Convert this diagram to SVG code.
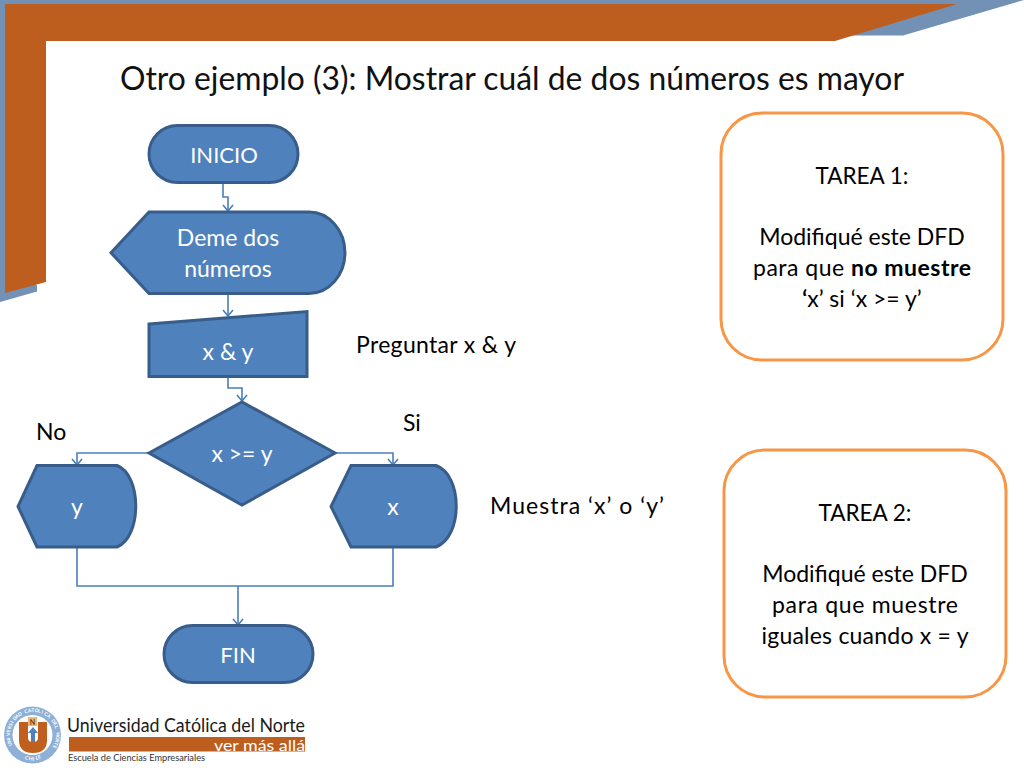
<svg xmlns="http://www.w3.org/2000/svg" width="1024" height="768" viewBox="0 0 1024 768">
<style>
text{font-family:Lato,"Open Sans","Liberation Sans",sans-serif}
.n{fill:#4f81bd;stroke:#385d8a;stroke-width:3}
.nt{fill:#fff;font-size:23px;text-anchor:middle}
.t{fill:#000;font-size:23px}
.tc{fill:#000;font-size:23px;text-anchor:middle}
.task{fill:#fff;stroke:#f79646;stroke-width:3}
.c{fill:none;stroke:#4a7ebb;stroke-width:1.6}
.ring{font-size:4.800px;fill:#fff;font-weight:700}
</style>
<defs><marker id="a" markerUnits="userSpaceOnUse" markerWidth="12" markerHeight="10" refX="6" refY="9" orient="0" overflow="visible"><path d="M1 3 L6 9 L11 3" fill="none" stroke="#4a7ebb" stroke-width="1.6"/></marker></defs>
<g id="frame">
<path d="M0 0H1024L903 35.500H700V20H20V280L37 285V291.500L0 302Z" fill="#7291b5"/>
<path d="M5 4H957L835 41H46V282L5 293Z" fill="#bd5e1f"/>
</g>
<text id="title" x="120" y="90" font-size="32" textLength="784" lengthAdjust="spacingAndGlyphs" fill="#111">Otro ejemplo (3): Mostrar cuál de dos números es mayor</text>
<g id="connectors">
<path class="c" d="M223 183V197H228V211" marker-end="url(#a)"/>
<path class="c" d="M228 294V316" marker-end="url(#a)"/>
<path class="c" d="M228 377V388H242V401" marker-end="url(#a)"/>
<path class="c" d="M149 453H77V465" marker-end="url(#a)"/>
<path class="c" d="M335 453H393V465" marker-end="url(#a)"/>
<path class="c" d="M77 547V586H393V547"/>
<path class="c" d="M238 586V625" marker-end="url(#a)"/>
</g>
<g id="inicio"><rect class="n" x="149" y="125.500" width="149" height="57" rx="28.500"/><text class="nt" x="224" y="163" style="font-size:22px">INICIO</text></g>
<g id="deme"><path class="n" d="M149 212H309A36 40.750 0 0 1 309 293.500H149L111 252.750Z"/><text class="nt" x="228" y="246">Deme dos</text><text class="nt" x="228" y="277">números</text></g>
<g id="entrada"><path class="n" d="M149 324L307 311.500V376.500H149Z"/><text class="nt" x="228" y="360">x &amp; y</text></g>
<g id="decision"><path class="n" d="M149 453L242 402L335 453L242 505Z"/><text class="nt" x="242" y="462">x &gt;= y</text></g>
<g id="salida-y"><path class="n" d="M37 465.500H117C142 475 142 537 117 547H37L18 506.500Z"/><text class="nt" x="77" y="515">y</text></g>
<g id="salida-x"><path class="n" d="M351 465.500H436C463 475 463 537 436 547H351L331 506.500Z"/><text class="nt" x="393" y="515">x</text></g>
<g id="fin"><rect class="n" x="164" y="625.500" width="149" height="57" rx="28.500"/><text class="nt" x="238" y="663" style="font-size:22px">FIN</text></g>
<g id="labels">
<text class="t" x="356" y="353" textLength="160">Preguntar x &amp; y</text>
<text class="t" x="403" y="431">Si</text>
<text class="t" x="36" y="440">No</text>
<text class="t" x="490" y="514" textLength="174">Muestra ‘x’ o ‘y’</text>
</g>
<g id="tarea1"><rect class="task" x="721" y="113" width="282" height="247" rx="41"/>
<text class="tc" x="862" y="184" style="font-size:22.500px">TAREA 1:</text>
<text class="tc" x="862" y="245">Modifiqué este DFD</text>
<text class="tc" x="862" y="276" textLength="218">para que <tspan font-weight="700">no muestre</tspan></text>
<text class="tc" x="862" y="307"><tspan font-weight="700">‘</tspan>x’ si ‘x &gt;= y’</text></g>
<g id="tarea2"><rect class="task" x="724" y="450" width="282" height="247" rx="41"/>
<text class="tc" x="865" y="521" style="font-size:22.500px">TAREA 2:</text>
<text class="tc" x="865" y="582">Modifiqué este DFD</text>
<text class="tc" x="865" y="613" textLength="186">para que muestre</text>
<text class="tc" x="865" y="644" textLength="207">iguales cuando x = y</text></g>
<g id="logo">
<circle cx="32.500" cy="735" r="28.500" fill="#8fb0d6"/>
<circle cx="32.500" cy="735" r="20" fill="#fff"/>
<text class="ring" x="12.300 11.100 10.300 10 10.100 10.700 11.700 13.100 14.900 17 19.500" y="745.100 742.100 739 735.800 732.600 729.400 726.400 723.500 720.800 718.500 716.400" rotate="-116 -108 -100 -92 -84 -76 -68 -60 -52 -44 -36">UNIVERSIDAD</text>
<text class="ring" x="25.100 28.200 31.400 34.600 37.800 40.900 43.800 46.500" y="713.400 712.500 712 712 712.500 713.400 714.700 716.400" rotate="-20 -12 -4 4 12 20 28 36">CATÓLICA</text>
<text class="ring" x="51.100 52.900 54.300" y="720.800 723.500 726.400" rotate="52 60 68">DEL</text>
<text class="ring" x="55.900 56 55.700 54.900 53.700" y="732.600 735.800 739 742.100 745.100" rotate="84 92 100 108 116">NORTE</text>
<text font-size="5" fill="#fff" font-weight="700" x="24.500 28.500 32.500 36 38.500" y="759 760 760.500 760 759" rotate="20 10 0 -10 -20">CHILE</text>
<path d="M19 722H28V738Q28 742 33 742Q38 742 38 738V722H47V740Q47 753 33 753Q19 753 19 740Z" fill="#c05f1e"/>
<rect x="28" y="717" width="9" height="9" fill="#e3b97c"/>
<text x="32.500" y="725" font-size="7" text-anchor="middle" fill="#7a3a10" font-weight="700">N</text>
<path d="M33 727L38 733H35V742H31V733H28Z" fill="#4f81bd"/>
<text x="67" y="732" font-size="18.500" textLength="238" lengthAdjust="spacingAndGlyphs" fill="#1a1a1a">Universidad Católica del Norte</text>
<rect x="69" y="737" width="236" height="14.500" fill="#bd5e1f"/>
<text x="305" y="751" font-size="15" text-anchor="end" textLength="91" lengthAdjust="spacingAndGlyphs" fill="#fff">ver más allá</text>
<text x="68" y="760.500" font-size="9" textLength="137" lengthAdjust="spacingAndGlyphs" fill="#333">Escuela de Ciencias Empresariales</text>
</g>
</svg>
